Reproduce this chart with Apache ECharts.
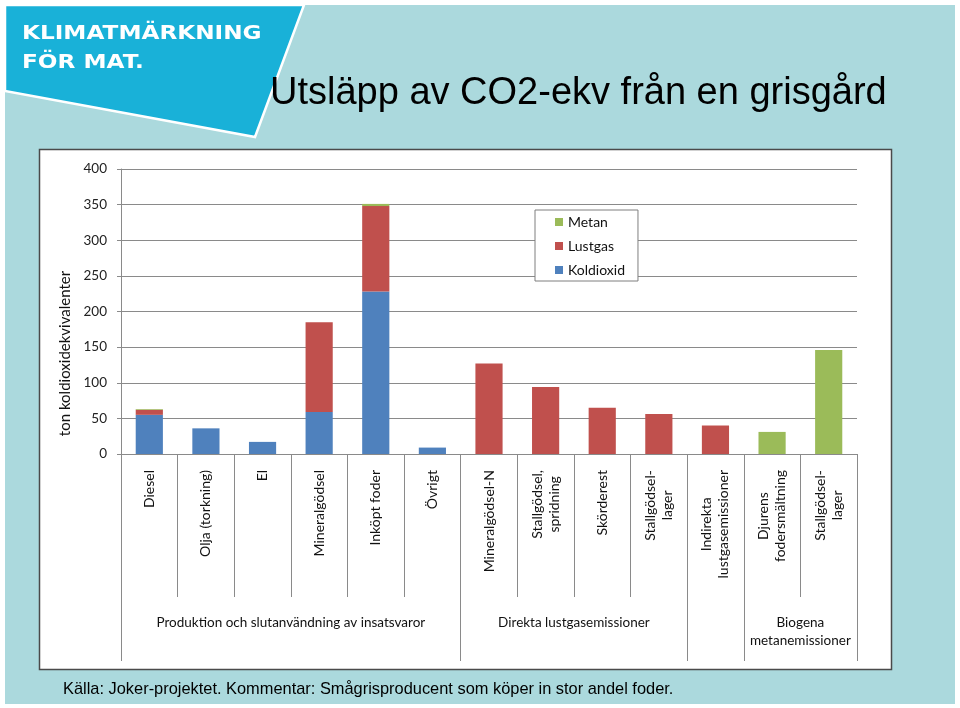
<!DOCTYPE html>
<html><head><meta charset="utf-8">
<script src="https://cdn.jsdelivr.net/npm/echarts@6/dist/echarts.min.js"></script>
<style>html,body{margin:0;padding:0;background:#fff}#c{width:960px;height:708px}</style>
</head><body><div id="c"></div>
<script>
// ---- data ----
const categories = ['Diesel', 'Olja (torkning)', 'El', 'Mineralgödsel', 'Inköpt foder', 'Övrigt',
  'Mineralgödsel-N', 'Stallgödsel,\nspridning', 'Skörderest', 'Stallgödsel-\nlager',
  'Indirekta\nlustgasemissioner', 'Djurens\nfodersmältning', 'Stallgödsel-\nlager'];
const koldioxid = [55, 36, 17, 59, 228, 9, 0, 0, 0, 0, 0, 0, 0];
const lustgas   = [7, 0, 0, 126, 120, 0, 127, 94, 65, 56, 40, 0, 0];
const metan     = [1, 0, 0, 0, 3, 0, 0, 0, 0, 0, 0, 31, 146];
const seriesNames = ['Koldioxid', 'Lustgas', 'Metan'];
const legendOrder = ['Metan', 'Lustgas', 'Koldioxid'];
const yMin = 0, yMax = 400, yStep = 50;
const groupNames = ['Produktion och slutanvändning av insatsvaror', 'Direkta lustgasemissioner', 'Biogena\nmetanemissioner'];
const groupBounds = [0, 6, 10, 11, 13];
const groupCenters = [3, 8, 12];
const titleText = 'Utsläpp av CO2-ekv från en grisgård';
const yName = 'ton koldioxidekvivalenter';
const footerText = 'Källa: Joker-projektet. Kommentar: Smågrisproducent som köper in stor andel foder.';

// ---- style ----
const FONT = 'Lato';
const lineCol = '#8a8a8a';
const colors = {Koldioxid: '#4f81bd', Lustgas: '#c0504d', Metan: '#9bbb59'};
const values = {Koldioxid: koldioxid, Lustgas: lustgas, Metan: metan};

const chart = echarts.init(document.getElementById('c'));
const option = {
  animation: false,
  backgroundColor: '#ffffff',
  title: {
    text: titleText, left: 270, top: 75, padding: 0,
    textStyle: {fontFamily: 'Liberation Sans', fontSize: 38, fontWeight: 'normal', color: '#000'}
  },
  graphic: [
    {type: 'rect', z: -20, shape: {x: 5, y: 5, width: 950, height: 699}, style: {fill: '#abd9dd'}},
    {type: 'polygon', z: -19, shape: {points: [[5, 5], [304, 5], [255, 137], [5, 91]]},
      style: {fill: '#19b1d8', stroke: '#ffffff', lineWidth: 2.5}},
    {type: 'text', z: -18, x: 22, y: 34, scaleX: 1.22,
      style: {text: 'KLIMATMÄRKNING', fill: '#fff', font: 'bold 19px "DejaVu Sans"', align: 'left', verticalAlign: 'middle'}},
    {type: 'text', z: -18, x: 22, y: 63, scaleX: 1.22,
      style: {text: 'FÖR MAT.', fill: '#fff', font: 'bold 19px "DejaVu Sans"', align: 'left', verticalAlign: 'middle'}},
    {type: 'rect', z: -17, shape: {x: 39.5, y: 149.5, width: 852, height: 520},
      style: {fill: '#ffffff', stroke: '#4a4a4a', lineWidth: 1.5}},
    {type: 'text', z: -16, x: 63, y: 689,
      style: {text: footerText, fill: '#000', font: '16.4px "Liberation Sans"', align: 'left', verticalAlign: 'middle'}}
  ],
  legend: {
    data: legendOrder, orient: 'vertical', left: 535, top: 210,
    itemWidth: 8, itemHeight: 8, itemGap: 10, padding: [5, 13, 4, 20],
    backgroundColor: '#fff', borderColor: '#7f7f7f', borderWidth: 1, icon: 'rect',
    textStyle: {fontFamily: FONT, fontSize: 14, color: '#111'}
  },
  grid: {left: 121, right: 103, top: 169, bottom: 254},
  xAxis: [
    {
      type: 'category', data: categories,
      axisLine: {show: true, lineStyle: {color: lineCol}},
      axisTick: {show: true, interval: 0, length: 143, lineStyle: {color: lineCol}},
      axisLabel: {
        interval: 0, rotate: 90, margin: 16,
        formatter: v => v.split('\n').map(s => '{c|' + s + '}').join('\n'),
        rich: {c: {align: 'center', fontSize: 14, fontFamily: FONT, color: '#111', lineHeight: 17}}
      }
    },
    {
      type: 'value', min: 0, max: groupBounds[groupBounds.length - 1], position: 'bottom', offset: 143,
      axisLine: {show: false, onZero: false},
      splitLine: {show: false},
      axisTick: {show: true, customValues: groupBounds, length: 64, lineStyle: {color: lineCol}},
      axisLabel: {
        customValues: groupCenters, margin: 17, fontSize: 13.5, lineHeight: 18, fontFamily: FONT, color: '#111',
        formatter: v => groupNames[groupCenters.indexOf(v)] || ''
      }
    }
  ],
  yAxis: {
    type: 'value', min: yMin, max: yMax, interval: yStep,
    name: yName, nameLocation: 'middle', nameGap: 48,
    nameTextStyle: {fontSize: 15, fontFamily: FONT, color: '#111', padding: [0, 84, 0, 0]},
    axisLine: {show: true, lineStyle: {color: lineCol}},
    axisTick: {show: true, length: 4, lineStyle: {color: lineCol}},
    axisLabel: {margin: 14, fontSize: 13.5, fontFamily: FONT, color: '#222'},
    splitLine: {lineStyle: {color: lineCol}}
  },
  series: seriesNames.map(n => ({
    name: n, type: 'bar', stack: 'total', xAxisIndex: 0, barWidth: '48%',
    itemStyle: {color: colors[n]}, data: values[n]
  }))
};
chart.setOption(option);
</script>
</body></html>
